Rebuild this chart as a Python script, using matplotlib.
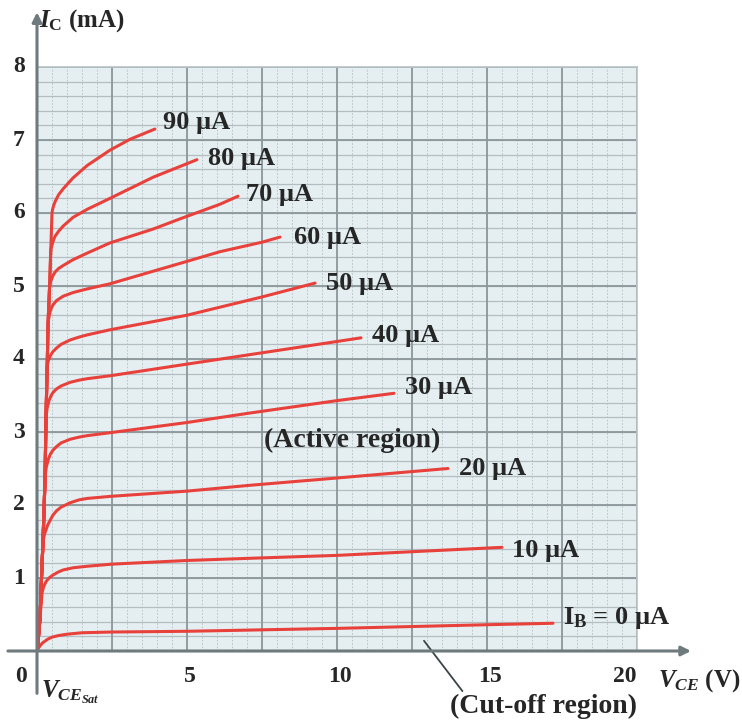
import matplotlib.pyplot as plt
import numpy as np

plt.rcParams['font.family'] = ['Liberation Serif', 'DejaVu Serif']
plt.rcParams['font.weight'] = 'bold'
plt.rcParams['mathtext.fontset'] = 'custom'
plt.rcParams['mathtext.rm'] = 'Liberation Serif:bold'
plt.rcParams['mathtext.it'] = 'Liberation Serif:italic:bold'
plt.rcParams['mathtext.bf'] = 'Liberation Serif:bold'

# common rising part near the origin (V, mA)
trunk_v = [0, 0.05, 0.10, 0.15, 0.20, 0.24, 0.27, 0.30, 0.34, 0.37, 0.42, 0.46, 0.50]
trunk_i = [0, 0.20, 0.45, 1.00, 1.50, 2.00, 2.40, 3.20, 3.90, 4.50, 5.00, 5.50, 6.00]

# base currents (uA) and the read-off collector curves
ib = [0, 10, 20, 30, 40, 50, 60, 70, 80, 90]
vce = [
    [0.0, 0.05, 0.1, 0.18, 0.25, 0.35, 0.5, 0.7, 1.0, 1.5, 2.5, 5, 10, 15, 17.2],
    [0.17, 0.22, 0.3, 0.4, 0.53, 0.7, 0.87, 1.2, 1.65, 2.5, 5, 7.1, 10, 12.5, 15.5],
    [0.2, 0.25, 0.35, 0.45, 0.53, 0.65, 0.8, 1.1, 1.4, 1.67, 2.5, 5, 7.1, 10, 13.7],
    [0.27, 0.31, 0.38, 0.45, 0.53, 0.65, 0.8, 1.1, 1.4, 1.67, 2.43, 5, 7.1, 10, 11.9],
    [0.3, 0.34, 0.4, 0.46, 0.53, 0.65, 0.8, 1.1, 1.4, 1.67, 2.43, 5, 7.1, 10, 10.8],
    [0.34, 0.38, 0.45, 0.53, 0.65, 0.8, 1.1, 1.4, 1.67, 2.43, 5, 6.1, 7.5, 9.27],
    [0.37, 0.41, 0.45, 0.53, 0.65, 0.87, 1.2, 1.67, 2.43, 4.77, 6.1, 7.5, 8.1],
    [0.42, 0.47, 0.53, 0.6, 0.72, 0.87, 1.2, 1.67, 2.43, 3.87, 4.77, 6.1, 6.7],
    [0.46, 0.5, 0.55, 0.6, 0.72, 0.87, 1.2, 1.67, 2.43, 3.87, 5.33],
    [0.5, 0.52, 0.56, 0.62, 0.72, 0.87, 1.2, 1.67, 2.43, 3.1, 3.93],
]
ic = [
    [0.0, 0.04, 0.07, 0.11, 0.13, 0.16, 0.19, 0.21, 0.23, 0.25, 0.26, 0.27, 0.31, 0.36, 0.38],
    [0.8, 0.88, 0.95, 1.0, 1.04, 1.08, 1.11, 1.14, 1.16, 1.19, 1.24, 1.27, 1.31, 1.36, 1.42],
    [1.5, 1.6, 1.72, 1.8, 1.86, 1.92, 1.97, 2.03, 2.07, 2.09, 2.12, 2.19, 2.27, 2.37, 2.5],
    [2.4, 2.52, 2.63, 2.7, 2.75, 2.8, 2.85, 2.9, 2.93, 2.95, 2.99, 3.13, 3.26, 3.43, 3.53],
    [3.2, 3.33, 3.43, 3.49, 3.54, 3.59, 3.63, 3.68, 3.71, 3.73, 3.77, 3.93, 4.06, 4.24, 4.29],
    [3.9, 3.98, 4.05, 4.1, 4.15, 4.2, 4.26, 4.3, 4.33, 4.4, 4.6, 4.71, 4.85, 5.04],
    [4.5, 4.6, 4.67, 4.74, 4.8, 4.86, 4.91, 4.96, 5.03, 5.31, 5.47, 5.6, 5.67],
    [5.0, 5.08, 5.14, 5.19, 5.24, 5.28, 5.36, 5.45, 5.59, 5.78, 5.92, 6.12, 6.23],
    [5.5, 5.56, 5.63, 5.68, 5.75, 5.82, 5.94, 6.05, 6.2, 6.49, 6.73],
    [6.0, 6.05, 6.11, 6.17, 6.25, 6.33, 6.48, 6.65, 6.86, 7.01, 7.15],
]
labels = ['I$_\\mathrm{B}$ = 0 µA'] + ['%d µA' % b for b in ib[1:]]
label_off = [(7, 4), (7, -2), (8, 0), (8, 4), (8, 2), (8, 0), (10, 0), (6, 1), (8, 1), (6, 5)]

red = '#e8413c'
grid_major = '#8c979b'
grid_minor = '#b3bec2'
txt = '#262626'

fig = plt.figure(figsize=(7.42, 7.2), dpi=100)
ax = fig.add_axes([37 / 742, 69 / 720, 600 / 742, 584 / 720])
ax.set_facecolor('#e5eff1')
ax.set_xlim(0, 20)
ax.set_ylim(0, 8)

# graph paper
for v in np.arange(0.5, 20, 0.5):
    ax.axvline(v, color=grid_minor, lw=0.6, ls=(0, (2, 2)), zorder=1)
for v in np.arange(2.5, 20.1, 2.5):
    ax.axvline(v, color=grid_major, lw=1.3, zorder=2)
for h in np.arange(0.2, 8, 0.2):
    ax.axhline(h, color=grid_minor, lw=0.9, zorder=1)
for h in range(1, 9):
    ax.axhline(h, color=grid_major, lw=1.3, zorder=2)

for s in ax.spines.values():
    s.set_color('#b8c2c5')
    s.set_linewidth(1.2)
ax.spines['left'].set_visible(False)
ax.spines['bottom'].set_visible(False)
ax.set_xticks([])
ax.set_yticks([])

for k in range(len(ib)):
    if k == 0:
        xs, ys = vce[k], ic[k]
    else:
        tv = [v for v, i in zip(trunk_v, trunk_i) if i < ic[k][0]]
        ti = [i for i in trunk_i if i < ic[k][0]]
        xs, ys = tv + vce[k], ti + ic[k]
    ax.plot(xs, ys, color=red, lw=2.2, solid_capstyle='round',
            solid_joinstyle='round', zorder=4)
    ax.annotate(labels[k], (xs[-1], ys[-1]), xytext=label_off[k],
                textcoords='offset points', ha='left', va='center',
                fontsize=19, color=txt, zorder=5)

# axes with arrows
axis_col = '#6f7a7e'
ax.annotate('', xy=(0, 8.75), xytext=(0, -0.58), annotation_clip=False,
            arrowprops=dict(arrowstyle='-|>', color=axis_col, lw=2.2, mutation_scale=14,
                            shrinkA=0, shrinkB=0), zorder=6)
ax.annotate('', xy=(21.8, 0), xytext=(-0.97, 0), annotation_clip=False,
            arrowprops=dict(arrowstyle='-|>', color=axis_col, lw=2.2, mutation_scale=14,
                            shrinkA=0, shrinkB=0), zorder=6)

for v in [5, 10, 15, 20]:
    ax.text(v + (-0.4 if v == 20 else 0.1), -0.35, str(v), ha='center', va='center',
            fontsize=17, color=txt)
ax.text(-0.55, -0.35, '0', ha='center', va='center', fontsize=17, color=txt)
for h in range(1, 9):
    ax.text(-0.6, h, str(h), ha='center', va='center', fontsize=17, color=txt)

ax.text(0.08, 8.64, '$I_\\mathrm{C}$ (mA)', ha='left', va='center', fontsize=18, color=txt)
ax.text(20.7, -0.4, '$V_{CE}$ (V)', ha='left', va='center', fontsize=18, color=txt)
ax.text(0.12, -0.57, '$V_{CE_{Sat}}$', ha='left', va='center', fontsize=18, color=txt)
ax.text(10.5, 2.88, '(Active region)', ha='center', va='center', fontsize=20, color=txt)

ax.annotate('(Cut-off region)', xy=(12.9, 0.14), xytext=(16.87, -0.76),
            ha='center', va='center', fontsize=20, color=txt, annotation_clip=False,
            arrowprops=dict(arrowstyle='-', color='#3b4446', lw=1.3,
                            shrinkA=0, shrinkB=0, relpos=(0.08, 1.0)))

fig.savefig('out.png', dpi=100)
